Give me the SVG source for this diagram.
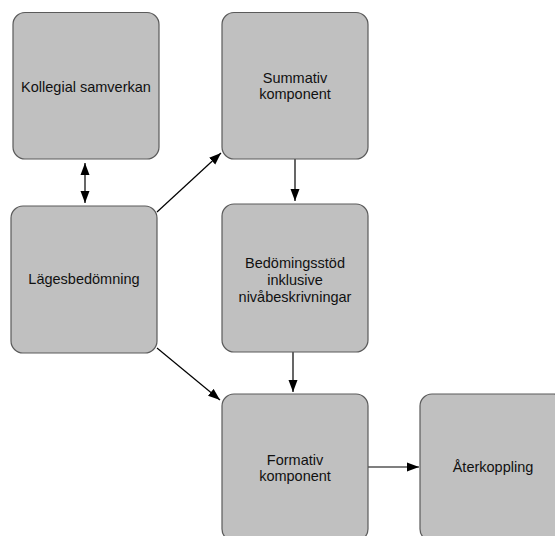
<svg xmlns="http://www.w3.org/2000/svg" width="555" height="536" viewBox="0 0 555 536">
  <defs>
    <marker id="arrow" viewBox="0 0 12 10" refX="12" refY="5" markerWidth="12" markerHeight="10" markerUnits="userSpaceOnUse" orient="auto-start-reverse">
      <path d="M0,0.5 L12,5 L0,9.5 z" fill="#000"/>
    </marker>
    <style>
      .box { fill: #c0c0c0; stroke: #5a5a5a; stroke-width: 1.2; }
      .label { font-family: "Liberation Sans", Arial, sans-serif; font-size: 14.5px; fill: #111; text-anchor: middle; }
      .edge { stroke: #000; stroke-width: 1.2; fill: none; marker-end: url(#arrow); }
    </style>
  </defs>
  <rect width="555" height="536" fill="#fff"/>

  <g id="connectors">
    <line class="edge" x1="85" y1="163" x2="85" y2="203" style="marker-start:url(#arrow)"/>
    <line class="edge" x1="157" y1="212" x2="221" y2="153"/>
    <line class="edge" x1="295" y1="159" x2="295" y2="201"/>
    <line class="edge" x1="157" y1="348" x2="220" y2="400"/>
    <line class="edge" x1="293" y1="352" x2="293" y2="392"/>
    <line class="edge" x1="368" y1="467" x2="419" y2="467"/>
  </g>

  <g id="kollegial">
    <rect class="box" x="13" y="12.5" width="146" height="146.5" rx="12"/>
    <text class="label" x="86" y="92">Kollegial samverkan</text>
  </g>
  <g id="lagesbedomning">
    <rect class="box" x="11" y="206" width="146" height="147" rx="12"/>
    <text class="label" x="84" y="284">Lägesbedömning</text>
  </g>
  <g id="summativ">
    <rect class="box" x="222" y="12.5" width="146" height="146.5" rx="12"/>
    <text class="label" x="295" y="83">Summativ</text>
    <text class="label" x="295" y="99">komponent</text>
  </g>
  <g id="bedomingsstod">
    <rect class="box" x="222" y="204" width="146" height="148" rx="12"/>
    <text class="label" x="295" y="268">Bedömingsstöd</text>
    <text class="label" x="295" y="285">inklusive</text>
    <text class="label" x="295" y="302">nivåbeskrivningar</text>
  </g>
  <g id="formativ">
    <rect class="box" x="222" y="394" width="146" height="147" rx="12"/>
    <text class="label" x="295" y="465">Formativ</text>
    <text class="label" x="295" y="481">komponent</text>
  </g>
  <g id="aterkoppling">
    <rect class="box" x="420" y="394" width="146" height="147" rx="12"/>
    <text class="label" x="493" y="472">Återkoppling</text>
  </g>
</svg>
